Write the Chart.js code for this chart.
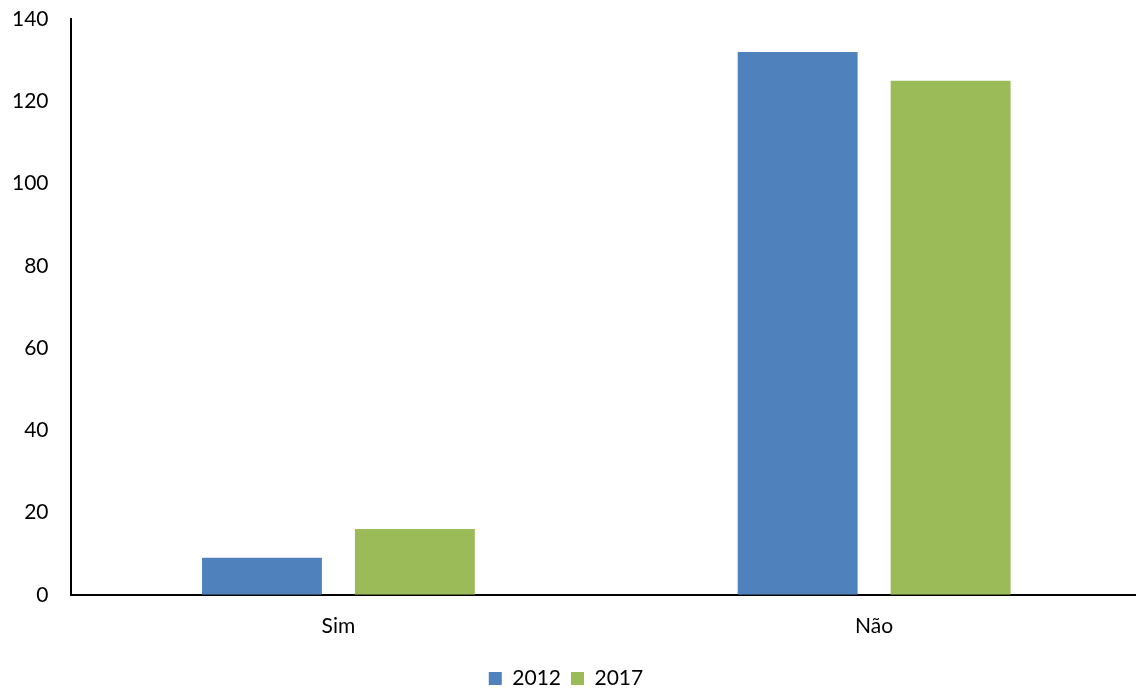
<!DOCTYPE html>
<html>
<head>
<meta charset="utf-8">
<script src="https://cdn.jsdelivr.net/npm/chart.js@4/dist/chart.umd.min.js"></script>
<style>
  html, body { margin: 0; padding: 0; background: #fff; overflow: hidden; }
  /* slightly wider than the window so the axis runs off the right edge */
  #wrap { width: 1142px; height: 689px; }
</style>
</head>
<body>
<div id="wrap"><canvas id="chart"></canvas></div>
<script>
const categories = ['Sim', 'Não'];
const values2012 = [9, 132];
const values2017 = [16, 125];
const yTicks = [0, 20, 40, 60, 80, 100, 120, 140];

Chart.defaults.font.family = 'Lato, "Open Sans", sans-serif';
Chart.defaults.color = '#000';

new Chart(document.getElementById('chart'), {
  type: 'bar',
  data: {
    labels: categories,
    datasets: [
      { label: '2012', data: values2012, backgroundColor: '#4F81BD' },
      { label: '2017', data: values2017, backgroundColor: '#9BBB59' }
    ]
  },
  options: {
    responsive: true,
    maintainAspectRatio: false,
    animation: false,
    categoryPercentage: 0.571,
    barPercentage: 0.784,
    layout: { padding: { top: 0, right: 0, left: -10, bottom: -10 } },
    plugins: {
      legend: {
        position: 'bottom',
        labels: { boxWidth: 13, boxHeight: 13, padding: 10, font: { size: 21 } }
      },
      tooltip: { enabled: false }
    },
    scales: {
      x: {
        // let the axis run out to the right edge
        afterFit: axis => { axis.paddingRight = 0; },
        grid: { display: false, drawTicks: false },
        border: { color: '#000', width: 2 },
        ticks: { font: { size: 21 }, padding: 19 }
      },
      y: {
        min: 0,
        max: 140,
        afterBuildTicks: axis => { axis.ticks = yTicks.map(v => ({ value: v })); },
        // keep the plot top close to the canvas edge despite the label gap
        afterFit: axis => { axis.paddingTop = 19; },
        grid: { display: false, drawTicks: false },
        border: { color: '#000', width: 2 },
        ticks: { font: { size: 21 }, padding: 22 }
      }
    }
  }
});
</script>
</body>
</html>
